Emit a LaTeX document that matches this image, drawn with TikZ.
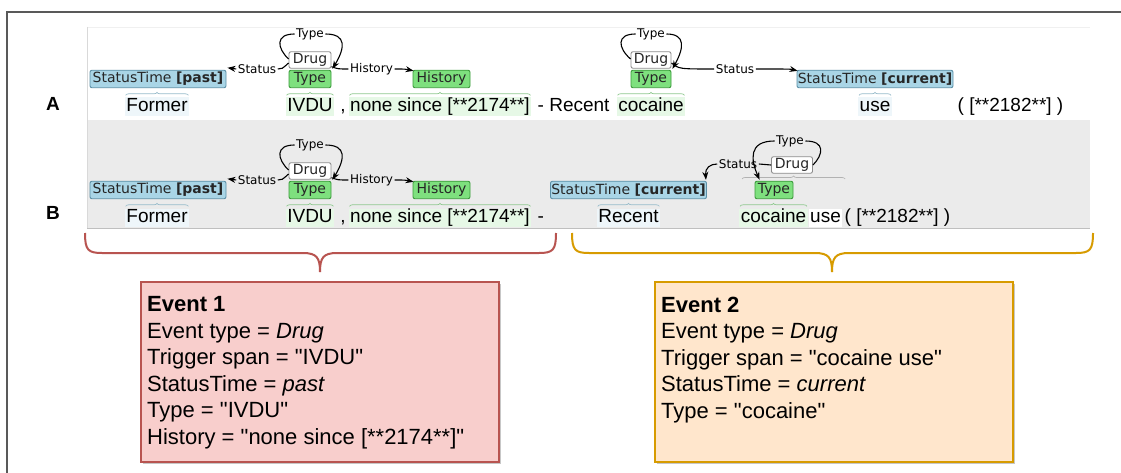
\documentclass[tikz,border=0pt]{standalone}
\usepackage{fontspec}
\setmainfont{Liberation Sans}[Ligatures=TeXOff]
\newfontfamily\dejavu{DejaVu Sans}
\usetikzlibrary{arrows.meta,decorations.pathreplacing,calc}
\definecolor{stfill}{HTML}{A9D5E6}
\definecolor{stdraw}{HTML}{5B8FA6}
\definecolor{tyfill}{HTML}{7EE07E}
\definecolor{tydraw}{HTML}{3A9A3A}
\definecolor{hlgreen}{HTML}{E6F8E6}
\definecolor{hlblue}{HTML}{EEF6FA}
\definecolor{brgreen}{HTML}{8FC98F}
\definecolor{brblue}{HTML}{98BCCB}
\definecolor{panelB}{HTML}{EBEBEB}
\definecolor{redfill}{HTML}{F8CECC}
\definecolor{reddraw}{HTML}{B85450}
\definecolor{orfill}{HTML}{FFE6CC}
\definecolor{ordraw}{HTML}{D79B00}
\begin{document}
\begin{tikzpicture}[x=1pt,y=-1pt,
  boxlbl/.style={rounded corners=2pt, line width=0.9pt, minimum height=17.5pt, inner sep=0pt, text=black!85, font=\dejavu\fontsize{14}{14}\selectfont},
  stbox/.style={boxlbl, draw=stdraw, fill=stfill},
  tybox/.style={boxlbl, draw=tydraw, fill=tyfill},
  drugbox/.style={boxlbl, draw=black!45, fill=white, minimum height=16.5pt},
  arclbl/.style={inner sep=1.5pt, font=\dejavu\fontsize{12}{13}\selectfont},
  arc/.style={line width=1.1pt, black},
  arcto/.style={arc, -{Stealth[length=8pt,width=6pt]}},
  word/.style={anchor=base, inner xsep=1.5pt, inner ysep=0pt, text height=14pt, text depth=4.5pt, font=\fontsize{19}{22}\selectfont},
  hlword/.style={word, fill=#1},
  spanbrace/.style={decorate, decoration={brace, amplitude=3pt}, line width=0.7pt},
  bigbrace/.style={line width=2pt},
  evtext/.style={anchor=north west, align=left, inner sep=0pt, font=\fontsize{22}{26.5}\selectfont},
  panellbl/.style={font=\bfseries\fontsize{19}{22}\selectfont}
]
\useasboundingbox (0,0) rectangle (1121,473);
\fill[white] (0,0) rectangle (1121,473);
% outer frame
\draw[black!65, line width=1.5pt] (7,473) -- (7,12) -- (1121,12);
% panels
\fill[white] (87,27) rectangle (1090,120);
\draw[black!6] (87,27) -- (1090,27);
\fill[panelB] (87,120) rectangle (1090,228);
\draw[black!25] (87,228) -- (1090,228);
\draw[black!15] (87,27) -- (87,228);
\node[panellbl] (pA) at (53,104) {A};
\node[panellbl] (pB) at (53,213) {B};

% ---------------- Panel A words
\node[hlword=hlblue] (formerA) at (157,111.5) {Former};
\node[hlword=hlgreen] (ivduA) at (310,111.5) {IVDU};
\node[word] (commaA) at (343,111.5) {,};
\node[hlword=hlgreen] (noneA) at (440,111.5) {none since [**2174**]};
\node[word, anchor=base west] (recentA) at (536,111.5) {- Recent};
\node[hlword=hlgreen] (cocaineA) at (651,111.5) {cocaine};
\node[hlword=hlblue] (useA) at (875,111.5) {use};
\node[word, anchor=base west] (parenA) at (956,111.5) {( [**2182**] )};
% span braces A
\draw[spanbrace, brblue] ($(formerA.north west)+(1,-2)$) -- ($(formerA.north east)+(-1,-2)$);
\draw[spanbrace, brgreen] ($(ivduA.north west)+(1,-2)$) -- ($(ivduA.north east)+(-1,-2)$);
\draw[spanbrace, brgreen] ($(noneA.north west)+(1,-2)$) -- ($(noneA.north east)+(-1,-2)$);
\draw[spanbrace, brgreen] ($(cocaineA.north west)+(1,-2)$) -- ($(cocaineA.north east)+(-1,-2)$);
\draw[spanbrace, brblue] ($(useA.north west)+(1,-2)$) -- ($(useA.north east)+(-1,-2)$);
% boxes A
\node[stbox, minimum width=136pt] (stA1) at (158,79) {StatusTime \textbf{[past]}};
\node[drugbox, minimum width=42pt] (drugA1) at (310,60) {Drug};
\node[tybox, minimum width=42pt] (typeA1) at (310,79) {Type};
\node[tybox, minimum width=57pt] (histA1) at (441.5,79) {History};
\node[drugbox, minimum width=40pt] (drugA2) at (651,60) {Drug};
\node[tybox, minimum width=40pt] (typeA2) at (651,79) {Type};
\node[stbox, minimum width=156pt] (stA2) at (875,79) {StatusTime \textbf{[current]}};
% arc labels A
\node[arclbl] (lStA1) at (257,69) {Status};
\node[arclbl] (lTyA1) at (310,34) {Type};
\node[arclbl] (lHiA1) at (371.5,69) {History};
\node[arclbl] (lTyA2) at (651,34) {Type};
\node[arclbl] (lStA2) at (735,69) {Status};
% arcs A
\draw[arc] ($(drugA1.west)+(0,3)$) .. controls (282,69) .. (lStA1.east);
\draw[arcto] (lStA1.west) -- ($(stA1.north east)+(1,-2)$);
\draw[arc] ($(drugA1.west)+(0,-1)$) .. controls (277,48) and (275,34) .. (lTyA1.west);
\draw[arcto] (lTyA1.east) .. controls (347,34) and (345,48) .. ($(typeA1.north east)+(1,-1)$);
\draw[arc] ($(drugA1.south east)+(0,-2)$) .. controls (338,69) .. (lHiA1.west);
\draw[arcto] (lHiA1.east) .. controls (405,69) .. ($(histA1.north west)+(1,1)$);
\draw[arc] ($(drugA2.west)+(0,-1)$) .. controls (618,48) and (616,34) .. (lTyA2.west);
\draw[arcto] (lTyA2.east) .. controls (686,34) and (684,48) .. ($(typeA2.north east)+(1,-1)$);
\draw[arc] ($(drugA2.east)+(0,3)$) .. controls (679,69) .. (lStA2.west);
\draw[arcto] (lStA2.east) .. controls (790,69) .. ($(stA2.north west)+(1,1)$);

% ---------------- Panel B words
\node[hlword=hlblue] (formerB) at (157,222.5) {Former};
\node[hlword=hlgreen] (ivduB) at (310,222.5) {IVDU};
\node[word] (commaB) at (343,222.5) {,};
\node[hlword=hlgreen] (noneB) at (440,222.5) {none since [**2174**]};
\node[word, anchor=base west] (dashB) at (536,222.5) {-};
\node[hlword=hlblue] (recentB) at (628.5,222.5) {Recent};
\node[hlword=hlgreen] (cocaineB) at (773.5,222.5) {cocaine};
\node[hlword=white, anchor=base west, inner xsep=1pt] (useB) at (809,222.5) {use};
\node[word, anchor=base west] (parenB) at (843,222.5) {( [**2182**] )};
% span braces B
\draw[spanbrace, brblue] ($(formerB.north west)+(1,-2)$) -- ($(formerB.north east)+(-1,-2)$);
\draw[spanbrace, brgreen] ($(ivduB.north west)+(1,-2)$) -- ($(ivduB.north east)+(-1,-2)$);
\draw[spanbrace, brgreen] ($(noneB.north west)+(1,-2)$) -- ($(noneB.north east)+(-1,-2)$);
\draw[spanbrace, brblue] ($(recentB.north west)+(1,-2)$) -- ($(recentB.north east)+(-1,-2)$);
\draw[spanbrace, brgreen] ($(cocaineB.north west)+(1,-2)$) -- ($(cocaineB.north east)+(-1,-2)$);
\draw[spanbrace, black!30] (742,179) -- (845,179);
% boxes B
\node[stbox, minimum width=136pt] (stB1) at (158,190) {StatusTime \textbf{[past]}};
\node[drugbox, minimum width=42pt] (drugB1) at (310,171) {Drug};
\node[tybox, minimum width=42pt] (typeB1) at (310,190) {Type};
\node[tybox, minimum width=57pt] (histB1) at (441.5,190) {History};
\node[stbox, minimum width=156pt] (stB2) at (628.5,190) {StatusTime \textbf{[current]}};
\node[drugbox, minimum width=41pt] (drugB2) at (792,165) {Drug};
\node[tybox, minimum width=38pt] (typeB2) at (774,190) {Type};
% arc labels B
\node[arclbl] (lStB1) at (257,180) {Status};
\node[arclbl] (lTyB1) at (310,145) {Type};
\node[arclbl] (lHiB1) at (371.5,180) {History};
\node[arclbl] (lStB2) at (738,164) {Status};
\node[arclbl] (lTyB2) at (790,141) {Type};
% arcs B
\draw[arc] ($(drugB1.west)+(0,3)$) .. controls (282,180) .. (lStB1.east);
\draw[arcto] (lStB1.west) -- ($(stB1.north east)+(1,-2)$);
\draw[arc] ($(drugB1.west)+(0,-1)$) .. controls (277,159) and (275,145) .. (lTyB1.west);
\draw[arcto] (lTyB1.east) .. controls (347,145) and (345,159) .. ($(typeB1.north east)+(1,-1)$);
\draw[arc] ($(drugB1.south east)+(0,-2)$) .. controls (338,180) .. (lHiB1.west);
\draw[arcto] (lHiB1.east) .. controls (405,180) .. ($(histB1.north west)+(1,1)$);
\draw[arc] (drugB2.west) -- (lStB2.east);
\draw[arcto] (lStB2.west) .. controls (710,164) and (705,168) .. ($(stB2.north east)+(-1,-1)$);
\draw[arc] (drugB2.east) .. controls (823,155) and (826,141) .. (lTyB2.east);
\draw[arcto] (lTyB2.west) .. controls (748,141) and (751,160) .. ($(typeB2.north west)+(5,-1)$);

% ---------------- big braces
\draw[bigbrace, reddraw] (85,233) .. controls (85,250) and (88,253) .. (102,253) -- (303,253)
  .. controls (317,253) and (320,258) .. (320,272);
\draw[bigbrace, reddraw] (320,272) .. controls (320,258) and (323,253) .. (337,253) -- (539,253)
  .. controls (553,253) and (556,250) .. (556,233);
\draw[bigbrace, ordraw] (572,233) .. controls (572,250) and (575,253) .. (589,253) -- (815,253)
  .. controls (829,253) and (832,258) .. (832,272);
\draw[bigbrace, ordraw] (832,272) .. controls (832,258) and (835,253) .. (849,253) -- (1076,253)
  .. controls (1090,253) and (1093,250) .. (1093,233);

% ---------------- event boxes
\fill[black!22] (143,284) rectangle (501,464);
\node[draw=reddraw, fill=redfill, line width=1.8pt, minimum width=358pt, minimum height=180pt, anchor=north west, inner sep=0pt] (ev1) at (140,281) {};
\node[evtext] (ev1t) at (147,296.5) {\textbf{Event 1}\\Event type = \textit{Drug}\\Trigger span = "IVDU"\\StatusTime = \textit{past}\\Type = "IVDU"\\History = "none since [**2174**]"};
\fill[black!22] (657,284) rectangle (1015,464);
\node[draw=ordraw, fill=orfill, line width=1.8pt, minimum width=358pt, minimum height=180pt, anchor=north west, inner sep=0pt] (ev2) at (654,281) {};
\node[evtext] (ev2t) at (661,296.5) {\textbf{Event 2}\\Event type = \textit{Drug}\\Trigger span = "cocaine use"\\StatusTime = \textit{current}\\Type = "cocaine"};
\end{tikzpicture}
\end{document}
